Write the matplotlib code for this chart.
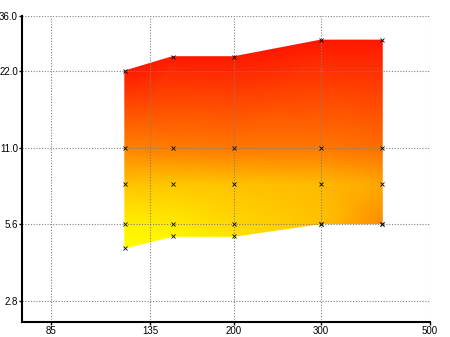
import numpy as np
import matplotlib
matplotlib.use("Agg")
import matplotlib.pyplot as plt
from matplotlib.colors import LinearSegmentedColormap
from matplotlib.ticker import FixedLocator, FixedFormatter, NullLocator

# measurement columns (x) and the y levels in each column
xs = [120, 150, 200, 300, 400]
y_bottom = [4.5, 5.0, 5.0, 5.6, 5.6]
y_low = [5.6, 5.6, 5.6, 5.6, 5.6]
y_mid = [8.0, 8.0, 8.0, 8.0, 8.0]
y_high = [11.0, 11.0, 11.0, 11.0, 11.0]
y_top = [22.0, 25.0, 25.0, 29.0, 29.0]

# colour value at each point (0 = yellow, 1 = red)
v_bottom = [0.0, 0.04, 0.10, 0.24, 0.45]
v_low = [0.06, 0.08, 0.16, 0.24, 0.45]
v_mid = [0.24, 0.22, 0.24, 0.27, 0.35]
v_high = [0.49, 0.51, 0.53, 0.53, 0.57]
v_top = [0.90, 0.90, 0.90, 0.91, 0.91]

x_ticks = [85, 135, 200, 300, 500]
x_labels = ["85", "135", "200", "300", "500"]
y_ticks = [2.8, 5.6, 11.0, 22.0, 36.0]
y_labels = ["2.8", "5.6", "11.0", "22.0", "36.0"]

plt.rcParams["font.family"] = ["Liberation Sans Narrow", "Liberation Sans", "DejaVu Sans"]

fig = plt.figure(figsize=(4.5, 3.37), dpi=100, facecolor="white")
ax = fig.add_axes([22 / 450, 15 / 337, 408 / 450, 306 / 337])
ax.set_xscale("log")
ax.set_yscale("log")

X = np.array([xs] * 5)
Y = np.array([y_bottom, y_low, y_mid, y_high, y_top])
V = np.array([v_bottom, v_low, v_mid, v_high, v_top])

cmap = LinearSegmentedColormap.from_list("yr", [(1, 1, 0), (1, 0.5, 0), (1, 0, 0)])
ax.pcolormesh(X, Y, V, shading="gouraud", cmap=cmap, vmin=0, vmax=1, zorder=1)
ax.plot(X.ravel(), Y.ravel(), linestyle="none", marker="x", color="black",
        markersize=2.5, markeredgewidth=0.6, zorder=4)

ax.set_xlim(74.2, 500)
ax.set_ylim(2.32, 36)

ax.xaxis.set_major_locator(FixedLocator(x_ticks))
ax.xaxis.set_major_formatter(FixedFormatter(x_labels))
ax.xaxis.set_minor_locator(NullLocator())
ax.yaxis.set_major_locator(FixedLocator(y_ticks))
ax.yaxis.set_major_formatter(FixedFormatter(y_labels))
ax.yaxis.set_minor_locator(NullLocator())

ax.set_axisbelow(False)
ax.grid(True, color="#808080", linestyle=(0, (1, 1.5)), linewidth=0.8, zorder=3)

for s in ["top", "right"]:
    ax.spines[s].set_visible(False)
for s in ["left", "bottom"]:
    ax.spines[s].set_linewidth(1.5)
    ax.spines[s].set_zorder(5)

ax.tick_params(axis="y", direction="out", length=2, width=1, pad=1, labelsize=7)
ax.tick_params(axis="x", direction="out", length=2, width=1, pad=1, labelsize=7)

fig.savefig("out.png", dpi=100, facecolor="white")
